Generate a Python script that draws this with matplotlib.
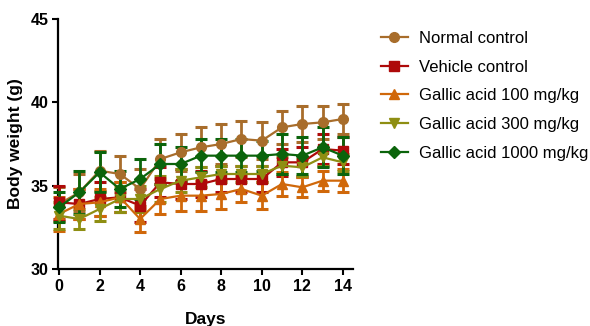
import matplotlib
matplotlib.use("Agg")
import matplotlib.pyplot as plt
from matplotlib.lines import Line2D

days = [0, 1, 2, 3, 4, 5, 6, 7, 8, 9, 10, 11, 12, 13, 14]
series_names = ["Normal control", "Vehicle control", "Gallic acid 100 mg/kg",
                "Gallic acid 300 mg/kg", "Gallic acid 1000 mg/kg"]

normal = [33.9, 34.6, 35.9, 35.7, 34.8, 36.6, 37.0, 37.3, 37.5, 37.8, 37.7, 38.5, 38.7, 38.8, 39.0]
normal_err = [1.0, 1.1, 1.2, 1.1, 1.2, 1.2, 1.1, 1.2, 1.2, 1.1, 1.1, 1.0, 1.1, 1.0, 0.9]
vehicle = [34.0, 33.9, 34.2, 34.3, 33.8, 35.2, 35.1, 35.1, 35.4, 35.4, 35.4, 36.4, 36.4, 37.2, 37.1]
vehicle_err = [1.0, 0.9, 1.0, 0.9, 1.0, 0.9, 0.9, 0.8, 0.8, 0.8, 0.8, 0.8, 0.9, 0.9, 0.8]
ga100 = [33.3, 33.9, 34.0, 34.3, 33.0, 34.2, 34.4, 34.4, 34.5, 34.8, 34.4, 35.1, 34.9, 35.3, 35.3]
ga100_err = [1.0, 0.9, 0.8, 0.9, 0.8, 0.9, 0.9, 0.9, 0.9, 0.8, 0.8, 0.7, 0.6, 0.6, 0.7]
ga300 = [33.2, 33.0, 33.6, 34.2, 34.2, 34.8, 35.3, 35.5, 35.7, 35.7, 35.7, 36.2, 36.1, 36.7, 36.4]
ga300_err = [0.8, 0.6, 0.7, 0.8, 0.8, 0.8, 0.7, 0.6, 0.5, 0.5, 0.5, 0.5, 0.5, 0.5, 0.5]
ga1000 = [33.7, 34.6, 35.8, 34.8, 35.4, 36.3, 36.3, 36.8, 36.8, 36.8, 36.8, 36.9, 36.8, 37.3, 36.8]
ga1000_err = [0.9, 1.3, 1.2, 1.1, 1.2, 1.2, 1.0, 1.0, 1.0, 1.0, 0.9, 1.2, 1.1, 1.2, 1.1]

values = [normal, vehicle, ga100, ga300, ga1000]
errors = [normal_err, vehicle_err, ga100_err, ga300_err, ga1000_err]
colors = ["#A86D2B", "#AE0A0A", "#D0680A", "#8E8E12", "#0B640B"]
markers = ["o", "s", "^", "v", "D"]
msizes = [7, 6.5, 7, 7, 6.5]

plt.rcParams['font.family'] = ['Liberation Sans', 'DejaVu Sans']

fig = plt.figure(figsize=(5.9, 3.26), dpi=100)
ax = fig.add_axes([58/590, 1 - 269/326, (353 - 58)/590, (269 - 19)/326])

for v, e, c, m, ms, name in zip(values, errors, colors, markers, msizes, series_names):
    ax.errorbar(days, v, yerr=e, color=c, marker=m, markersize=ms,
                linewidth=1.6, elinewidth=2.0, capsize=4, capthick=2.2,
                label=name, clip_on=False, zorder=3)

ax.set_xlim(-0.05, 14.5)
ax.set_ylim(30, 45)
ax.set_xticks([0, 2, 4, 6, 8, 10, 12, 14])
ax.set_yticks([30, 35, 40, 45])
ax.spines['top'].set_visible(False)
ax.spines['right'].set_visible(False)
ax.spines['left'].set_linewidth(1.6)
ax.spines['bottom'].set_linewidth(1.6)
ax.tick_params(direction='out', length=4, width=1.5, labelsize=11.5, pad=3)
for lbl in ax.get_xticklabels() + ax.get_yticklabels():
    lbl.set_fontweight('bold')
ax.set_xlabel("Days", fontsize=12.5, fontweight='bold', labelpad=13)
ax.set_ylabel("Body weight (g)", fontsize=12.5, fontweight='bold', labelpad=5)

leg_handles = [Line2D([0], [0], color=c, marker=m, markersize=ms, linewidth=1.6)
               for c, m, ms in zip(colors, markers, msizes)]
fig.legend(leg_handles, series_names, loc='upper left',
           bbox_to_anchor=(381/590, 1 - 31/326), frameon=False,
           fontsize=12, handlelength=1.6, handletextpad=0.7,
           labelspacing=0.82, borderaxespad=0, borderpad=0)

fig.savefig("out.png", dpi=100)
